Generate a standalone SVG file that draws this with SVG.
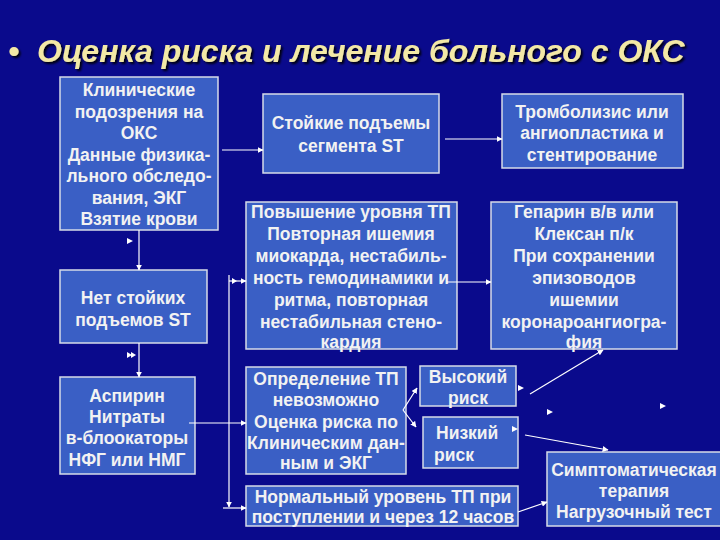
<svg xmlns="http://www.w3.org/2000/svg" width="720" height="540" viewBox="0 0 720 540">
<defs>
<marker id="ah" viewBox="0 0 10 10" refX="9" refY="5" markerWidth="6" markerHeight="6" markerUnits="userSpaceOnUse" orient="auto">
<path d="M0,0 L10,5 L0,10 z" fill="#ffffff"/>
</marker>
<filter id="sh" x="-5%" y="-20%" width="110%" height="150%">
<feDropShadow dx="2" dy="2" stdDeviation="0.8" flood-color="#000000" flood-opacity="0.9"/>
</filter>
</defs>
<style>
.box{fill:#3a5fc5;stroke:#d6dbe8;stroke-width:1.5}
.t{font-family:"Liberation Sans",Arial,sans-serif;font-weight:bold;font-size:17.5px;fill:#f2f2f2;text-anchor:middle}
.tl{text-anchor:start}
.c{stroke:#ffffff;stroke-width:1.2;fill:none}
.ca{stroke:#ffffff;stroke-width:1.2;fill:none;marker-end:url(#ah)}
.h{fill:#ffffff}
.title{font-family:"Liberation Sans",Arial,sans-serif;font-weight:bold;font-style:italic;font-size:32px;fill:#f3e9a6}
</style>
<rect width="720" height="540" fill="#0a0a8c"/>
<g id="title" filter="url(#sh)">
<text class="title" x="8" y="62">•</text>
<text class="title" x="37" y="62">Оценка риска и лечение больного с ОКС</text>
</g>
<g id="n1"><rect class="box" x="60" y="77" width="158" height="153"/>
<text class="t"><tspan x="139" y="96">Клинические</tspan><tspan x="139" y="117.5">подозрения на</tspan><tspan x="139" y="139">ОКС</tspan><tspan x="139" y="161">Данные физика-</tspan><tspan x="139" y="182">льного обследо-</tspan><tspan x="139" y="204">вания, ЭКГ</tspan><tspan x="139" y="225">Взятие крови</tspan></text></g>
<g id="n2"><rect class="box" x="263" y="94" width="176" height="79"/>
<text class="t"><tspan x="351" y="129">Стойкие подъемы</tspan><tspan x="351" y="152">сегмента ST</tspan></text></g>
<g id="n3"><rect class="box" x="502" y="94" width="181" height="74"/>
<text class="t"><tspan x="592" y="118">Тромболизис или</tspan><tspan x="592" y="139">ангиопластика и</tspan><tspan x="592" y="161">стентирование</tspan></text></g>
<g id="n4"><rect class="box" x="246" y="202" width="211" height="147"/>
<text class="t"><tspan x="351" y="218">Повышение уровня ТП</tspan><tspan x="351" y="240">Повторная ишемия</tspan><tspan x="351" y="262">миокарда, нестабиль-</tspan><tspan x="351" y="284">ность гемодинамики и</tspan><tspan x="351" y="306">ритма, повторная</tspan><tspan x="351" y="328">нестабильная стено-</tspan><tspan x="351" y="348">кардия</tspan></text></g>
<g id="n5"><rect class="box" x="491" y="202" width="186" height="147"/>
<text class="t"><tspan x="584" y="218">Гепарин в/в или</tspan><tspan x="584" y="240">Клексан п/к</tspan><tspan x="584" y="262">При сохранении</tspan><tspan x="584" y="284">эпизоводов</tspan><tspan x="584" y="306">ишемии</tspan><tspan x="584" y="328">коронароангиогра-</tspan><tspan x="584" y="348">фия</tspan></text></g>
<g id="n6"><rect class="box" x="60" y="270" width="147" height="73"/>
<text class="t"><tspan x="133" y="304">Нет стойких</tspan><tspan x="133" y="326">подъемов ST</tspan></text></g>
<g id="n7"><rect class="box" x="60" y="377" width="135" height="97"/>
<text class="t"><tspan x="127" y="402">Аспирин</tspan><tspan x="127" y="423">Нитраты</tspan><tspan x="127" y="444">в-блоокаторы</tspan><tspan x="127" y="466">НФГ или НМГ</tspan></text></g>
<g id="n8"><rect class="box" x="246" y="367" width="160" height="107"/>
<text class="t"><tspan x="326" y="385">Определение ТП</tspan><tspan x="326" y="406">невозможно</tspan><tspan x="326" y="428">Оценка риска по</tspan><tspan x="326" y="449">Клиническим дан-</tspan><tspan x="326" y="469">ным и ЭКГ</tspan></text></g>
<g id="n9"><rect class="box" x="420" y="366" width="96" height="40"/>
<text class="t"><tspan x="468" y="383">Высокий</tspan><tspan x="468" y="404">риск</tspan></text></g>
<g id="n10"><rect class="box" x="423" y="417" width="95" height="51"/>
<text class="t tl"><tspan x="436" y="439">Низкий</tspan><tspan x="434" y="461">риск</tspan></text></g>
<g id="n11"><rect class="box" x="246" y="486" width="272" height="40"/>
<text class="t"><tspan x="383" y="503">Нормальный уровень ТП при</tspan><tspan x="383" y="523">поступлении и через 12 часов</tspan></text></g>
<g id="n12"><rect class="box" x="547" y="452" width="175" height="74"/>
<text class="t"><tspan x="634" y="476">Симптоматическая</tspan><tspan x="634" y="497">терапия</tspan><tspan x="634" y="518">Нагрузочный тест</tspan></text></g>
<g id="connectors">
<path class="ca" d="M222,150 H263"/>
<path class="ca" d="M445,139 H502"/>
<path class="ca" d="M139,230 V270"/>
<path class="ca" d="M139,343 V377"/>
<path class="ca" d="M229,275 V507"/>
<path class="ca" d="M229,281 H246"/>
<path class="ca" d="M223,508 H246"/>
<path class="ca" d="M189,423 H246"/>
<path class="ca" d="M447,282 H491"/>
<path class="ca" d="M403,410 L417,388"/>
<path class="ca" d="M403,410 L416,427"/>
<path class="ca" d="M530,394 L603,350"/>
<path class="ca" d="M525,435 L608,450"/>
<path class="ca" d="M518,512 L547,502"/>
<polygon class="h" points="127,238 133,241 127,244"/>
<polygon class="h" points="127,352 132,355 127,358"/>
<polygon class="h" points="131,352 136,355 131,358"/>
<polygon class="h" points="232,278 237,281 232,284"/>
<polygon class="h" points="518,385 524,388 518,391"/>
<polygon class="h" points="512,426 518,429 512,432"/>
<polygon class="h" points="547,409 553,412 547,415"/>
<polygon class="h" points="660,403 666,406 660,409"/>
</g>
</svg>
